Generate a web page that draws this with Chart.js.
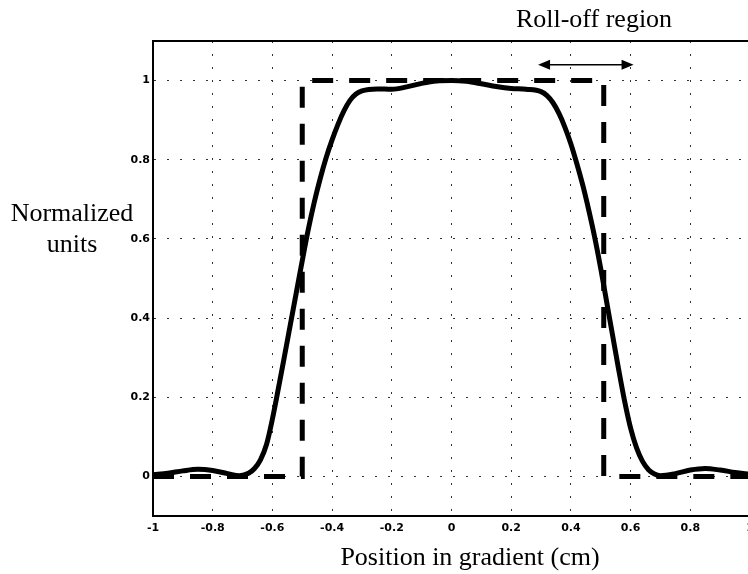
<!DOCTYPE html>
<html>
<head>
<meta charset="utf-8">
<title>Roll-off region</title>
<script src="https://cdn.jsdelivr.net/npm/chart.js@4.4.0/dist/chart.umd.min.js"></script>
<style>
  html, body { margin: 0; padding: 0; background: #fff; overflow: hidden; }
</style>
</head>
<body>
<canvas id="myChart" width="760" height="574"></canvas>
<script>
// measured slice profile
const positionCm = [-1, -0.95, -0.9, -0.85, -0.8, -0.75, -0.71, -0.68, -0.66, -0.64, -0.62, -0.6, -0.58, -0.56, -0.54, -0.52, -0.5, -0.48, -0.46, -0.44, -0.42, -0.4, -0.38, -0.36, -0.34, -0.32, -0.3, -0.25, -0.2, -0.15, -0.1, -0.05, 0,
  0.05, 0.1, 0.15, 0.2, 0.25, 0.3, 0.32, 0.34, 0.36, 0.38, 0.4, 0.42, 0.44, 0.46, 0.48, 0.5, 0.52, 0.54, 0.56, 0.58, 0.6, 0.62, 0.64, 0.66, 0.68, 0.7, 0.75, 0.8, 0.85, 0.9, 0.95, 1];
const profileValues = [0.004, 0.008, 0.014, 0.018, 0.015, 0.007, 0.002, 0.008, 0.02, 0.042, 0.08, 0.145, 0.222, 0.302, 0.383, 0.464, 0.545, 0.623, 0.692, 0.752, 0.805, 0.85, 0.89, 0.924, 0.95, 0.966, 0.974, 0.979, 0.978, 0.984, 0.993, 0.999, 1.0,
  0.998, 0.992, 0.985, 0.98, 0.978, 0.972, 0.962, 0.944, 0.917, 0.882, 0.84, 0.79, 0.735, 0.672, 0.603, 0.525, 0.44, 0.355, 0.27, 0.19, 0.122, 0.072, 0.038, 0.017, 0.006, 0.002, 0.007, 0.016, 0.02, 0.016, 0.01, 0.005];

// ideal rectangular slice
const idealX = [-1, -0.5, -0.5, 0.51, 0.51, 1];
const idealY = [0, 0, 1, 1, 0, 0];

// ticks
const xTicks = [-1, -0.8, -0.6, -0.4, -0.2, 0, 0.2, 0.4, 0.6, 0.8, 1];
const yTicks = [0, 0.2, 0.4, 0.6, 0.8, 1];

// roll-off arrow
const rollOffRange = [0.29, 0.61];
const rollOffLevel = 1.04;

const serif = '26px "Liberation Serif", "Times New Roman", serif';

const extras = {
  id: 'extras',
  afterDraw(chart) {
    const { ctx, chartArea, scales: { x, y } } = chart;
    ctx.save();
    // top frame
    ctx.strokeStyle = '#000';
    ctx.lineWidth = 2;
    ctx.beginPath();
    ctx.moveTo(chartArea.left, chartArea.top);
    ctx.lineTo(chartArea.right, chartArea.top);
    ctx.stroke();

    // double arrow
    const x1 = x.getPixelForValue(rollOffRange[0]);
    const x2 = x.getPixelForValue(rollOffRange[1]);
    const ay = y.getPixelForValue(rollOffLevel);
    ctx.lineWidth = 1.6;
    ctx.beginPath();
    ctx.moveTo(x1 + 6, ay);
    ctx.lineTo(x2 - 6, ay);
    ctx.stroke();
    ctx.fillStyle = '#000';
    ctx.beginPath();
    ctx.moveTo(x1, ay); ctx.lineTo(x1 + 12, ay - 5); ctx.lineTo(x1 + 12, ay + 5);
    ctx.closePath(); ctx.fill();
    ctx.beginPath();
    ctx.moveTo(x2, ay); ctx.lineTo(x2 - 12, ay - 5); ctx.lineTo(x2 - 12, ay + 5);
    ctx.closePath(); ctx.fill();

    // texts
    ctx.font = serif;
    ctx.textAlign = 'center';
    ctx.textBaseline = 'alphabetic';
    ctx.fillText('Roll-off region', 594, 27);
    ctx.fillText('Normalized', 72, 221);
    ctx.fillText('units', 72, 252);
    ctx.fillText('Position in gradient (cm)', 470, 565);
    ctx.restore();
  }
};

const tickFont = { family: '"DejaVu Sans", Arial, sans-serif', size: 11, weight: 'bold' };

const ctx = document.getElementById('myChart').getContext('2d');
const myChart = new Chart(ctx, {
  type: 'line',
  data: {
    datasets: [
      {
        label: 'Profile',
        data: positionCm.map((p, i) => ({ x: p, y: profileValues[i] })),
        borderColor: '#000',
        borderWidth: 5,
        pointRadius: 0,
        cubicInterpolationMode: 'monotone',
        fill: false
      },
      {
        label: 'Ideal',
        data: idealX.map((p, i) => ({ x: p, y: idealY[i] })),
        borderColor: '#000',
        borderWidth: 5,
        borderDash: [21, 16],
        borderJoinStyle: 'miter',
        pointRadius: 0,
        tension: 0,
        fill: false
      }
    ]
  },
  options: {
    responsive: false,
    animation: false,
    layout: { padding: { left: 0, top: 41, right: 10, bottom: 0 } },
    plugins: {
      legend: { display: false },
      tooltip: { enabled: false }
    },
    scales: {
      x: {
        type: 'linear',
        min: -1,
        max: 1,
        afterBuildTicks: s => { s.ticks = xTicks.map(v => ({ value: v })); },
        afterFit: s => { s.height = 58; },
        grid: { color: '#333', lineWidth: 1, drawTicks: false },
        border: { display: true, color: '#000', width: 2, dash: [2, 11] },
        ticks: { color: '#000', font: tickFont, padding: 6, maxRotation: 0, autoSkip: false, callback: v => String(v) }
      },
      y: {
        min: -0.1,
        max: 1.1,
        afterBuildTicks: s => { s.ticks = yTicks.map(v => ({ value: v })); },
        afterFit: s => { s.width = 153; },
        grid: { color: '#333', lineWidth: 1, drawTicks: false },
        border: { display: true, color: '#000', width: 2, dash: [2, 11] },
        ticks: { color: '#000', font: tickFont, padding: 3, autoSkip: false, callback: v => String(v) }
      }
    }
  },
  plugins: [extras]
});
</script>
</body>
</html>
